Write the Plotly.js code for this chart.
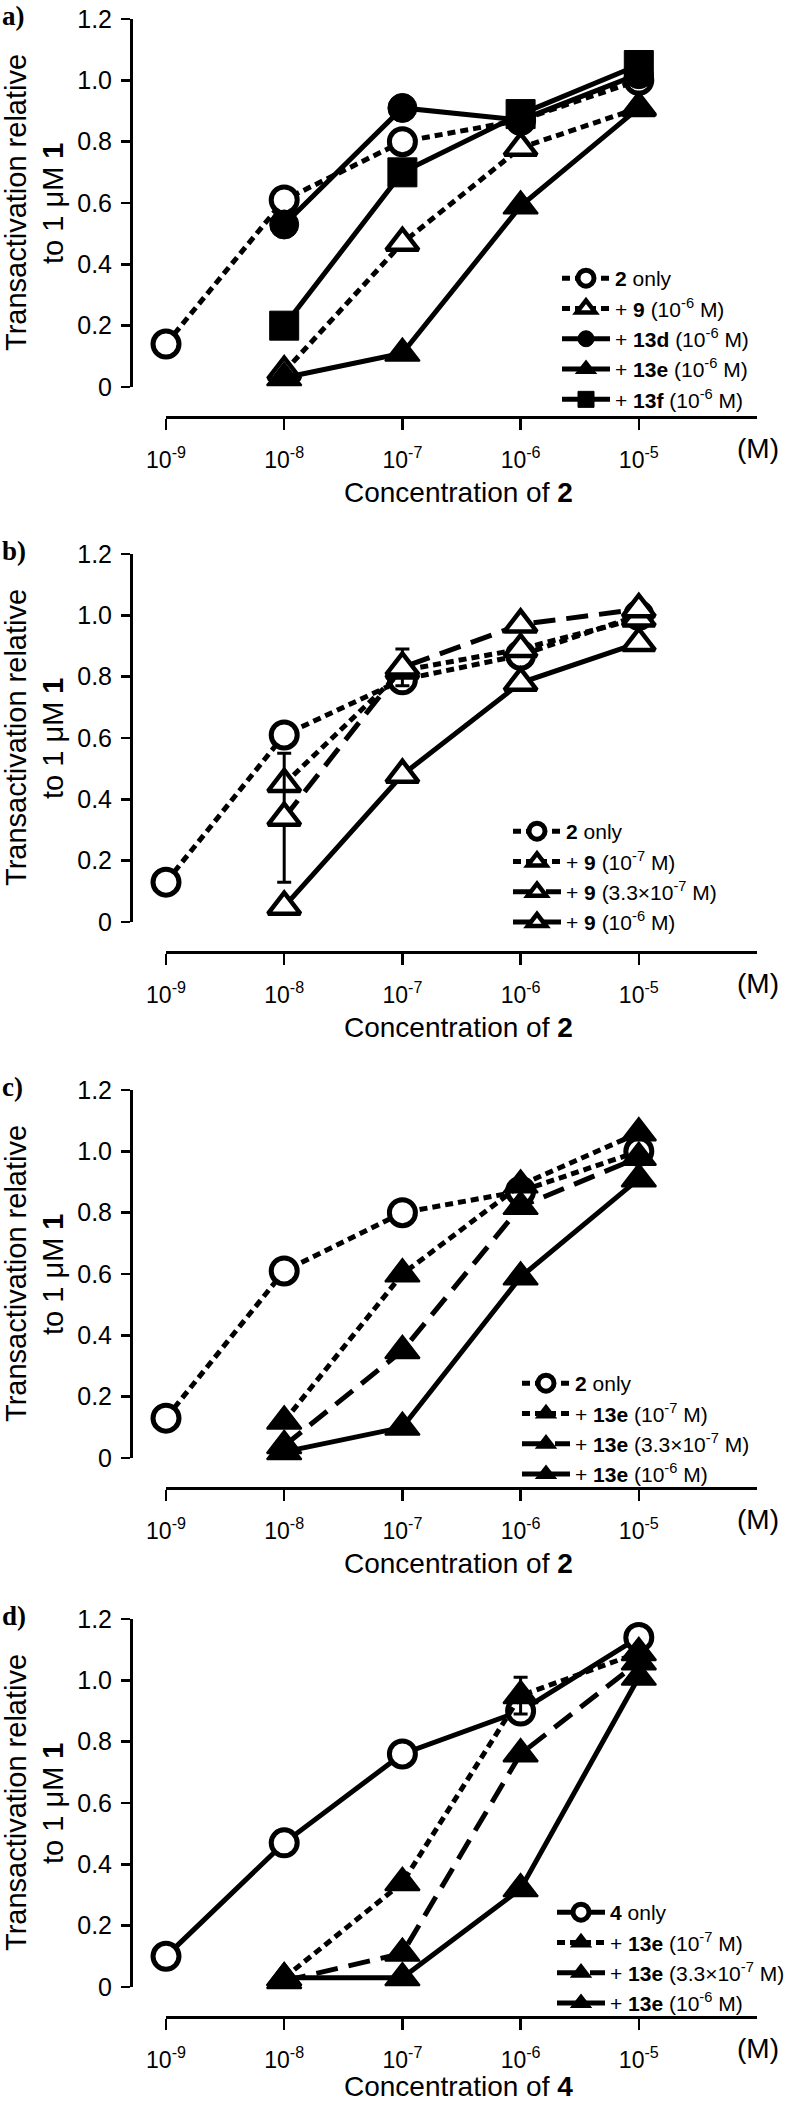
<!DOCTYPE html>
<html>
<head>
<meta charset="utf-8">
<script src="https://cdn.plot.ly/plotly-3.0.1.min.js"></script>
<style>html,body{margin:0;padding:0;background:#fff}#chart{width:790px;height:2105px}</style>
</head>
<body>
<div id="chart"></div>
<script>
// ---------- data ----------
const logConc = [-9, -8, -7, -6, -5];
const xTickText = ['10<sup>-9</sup>', '10<sup>-8</sup>', '10<sup>-7</sup>', '10<sup>-6</sup>', '10<sup>-5</sup>'];
const yTickVals = [0, 0.2, 0.4, 0.6, 0.8, 1.0, 1.2];
const yTickText = ['0', '0.2', '0.4', '0.6', '0.8', '1.0', '1.2'];
const panelLabels = ['a)', 'b)', 'c)', 'd)'];
const xTitles = ['Concentration of <b>2</b>', 'Concentration of <b>2</b>', 'Concentration of <b>2</b>', 'Concentration of <b>4</b>'];

// panel a
const a_names = ['<b>2</b> only', '+ <b>9</b> (10<sup>-6</sup> M)', '+ <b>13d</b> (10<sup>-6</sup> M)', '+ <b>13e</b> (10<sup>-6</sup> M)', '+ <b>13f</b> (10<sup>-6</sup> M)'];
const a_2only = [0.14, 0.61, 0.80, 0.87, 1.00];
const a_9 = [null, 0.05, 0.47, 0.78, 0.91];
const a_13d = [null, 0.53, 0.91, 0.87, 1.02];
const a_13e = [null, 0.03, 0.11, 0.59, 0.91];
const a_13f = [null, 0.20, 0.70, 0.89, 1.05];

// panel b
const b_names = ['<b>2</b> only', '+ <b>9</b> (10<sup>-7</sup> M)', '+ <b>9</b> (3.3×10<sup>-7</sup> M)', '+ <b>9</b> (10<sup>-6</sup> M)'];
const b_2only = [0.13, 0.61, 0.79, 0.87, 1.00];
const b_9_1e7 = [null, 0.45, 0.82, 0.89, 0.99];
const b_9_33e7 = [null, 0.34, 0.83, 0.97, 1.02];
const b_9_33e7_err = [0, 0.21, 0.06, 0, 0];
const b_9_1e6 = [null, 0.05, 0.48, 0.78, 0.91];

// panel c
const c_names = ['<b>2</b> only', '+ <b>13e</b> (10<sup>-7</sup> M)', '+ <b>13e</b> (3.3×10<sup>-7</sup> M)', '+ <b>13e</b> (10<sup>-6</sup> M)'];
const c_2only = [0.13, 0.61, 0.80, 0.87, 1.00];
const c_13e_1e7 = [null, 0.12, 0.60, 0.89, 1.06];
const c_13e_33e7 = [null, 0.04, 0.35, 0.82, 0.98];
const c_13e_1e6 = [null, 0.02, 0.10, 0.59, 0.91];

// panel d
const d_names = ['<b>4</b> only', '+ <b>13e</b> (10<sup>-7</sup> M)', '+ <b>13e</b> (3.3×10<sup>-7</sup> M)', '+ <b>13e</b> (10<sup>-6</sup> M)'];
const d_4only = [0.10, 0.47, 0.76, 0.90, 1.14];
const d_13e_1e7 = [null, 0.03, 0.34, 0.95, 1.09];
const d_13e_1e7_err = [0, 0, 0, 0.06, 0];
const d_13e_33e7 = [null, 0.02, 0.11, 0.76, 1.06];
const d_13e_1e6 = [null, 0.03, 0.03, 0.32, 1.01];

// ---------- styles / geometry ----------
const W = 790, H = 2105;
const FONT = 'Liberation Sans, Arial, Helvetica, sans-serif';
const offsets = [0, 535, 1071, 1600];
const legendPos = [[557, 258], [508, 811], [517, 1363], [552, 1892]];
const px = v => v / W;
const py = v => 1 - v / H;

const LW = 5;
const SHORT = '8px,5px';
const LONG = '22px,11px';
const openCircle = {symbol: 'circle', size: 26, color: 'white', line: {color: 'black', width: 5}};
const filledCircle = {symbol: 'circle', size: 29, color: 'black', line: {color: 'black', width: 1}};
const openTri = {symbol: 'triangle-up', size: 28, color: 'white', line: {color: 'black', width: 4.5}};
const filledTri = {symbol: 'triangle-up', size: 30, color: 'black', line: {color: 'black', width: 2}};
const filledSq = {symbol: 'square', size: 29, color: 'black', line: {color: 'black', width: 1}};

function tr(panel, name, y, marker, dash, err) {
  const sfx = panel === 1 ? '' : String(panel);
  const t = {
    type: 'scatter', mode: 'lines+markers', x: logConc, y: y, name: name,
    xaxis: 'x' + sfx, yaxis: 'y' + sfx, legend: 'legend' + sfx,
    line: {color: 'black', width: LW, dash: dash},
    marker: marker, cliponaxis: false, connectgaps: false, hoverinfo: 'skip'
  };
  if (err) t.error_y = {type: 'data', array: err, visible: true, color: 'black', thickness: 3, width: 7};
  return t;
}

const data = [
  tr(1, a_names[0], a_2only, openCircle, SHORT),
  tr(1, a_names[1], a_9, openTri, SHORT),
  tr(1, a_names[2], a_13d, filledCircle, 'solid'),
  tr(1, a_names[3], a_13e, filledTri, 'solid'),
  tr(1, a_names[4], a_13f, filledSq, 'solid'),

  tr(2, b_names[0], b_2only, openCircle, SHORT),
  tr(2, b_names[1], b_9_1e7, openTri, SHORT),
  tr(2, b_names[2], b_9_33e7, openTri, LONG, b_9_33e7_err),
  tr(2, b_names[3], b_9_1e6, openTri, 'solid'),

  tr(3, c_names[0], c_2only, openCircle, SHORT),
  tr(3, c_names[1], c_13e_1e7, filledTri, SHORT),
  tr(3, c_names[2], c_13e_33e7, filledTri, LONG),
  tr(3, c_names[3], c_13e_1e6, filledTri, 'solid'),

  tr(4, d_names[0], d_4only, openCircle, 'solid'),
  tr(4, d_names[1], d_13e_1e7, filledTri, SHORT, d_13e_1e7_err),
  tr(4, d_names[2], d_13e_33e7, filledTri, LONG),
  tr(4, d_names[3], d_13e_1e6, filledTri, 'solid')
];

const layout = {
  width: W, height: H,
  margin: {l: 0, r: 0, t: 0, b: 0},
  paper_bgcolor: 'white', plot_bgcolor: 'rgba(0,0,0,0)',
  font: {family: FONT, color: 'black', size: 22},
  showlegend: true,
  annotations: []
};

offsets.forEach((off, i) => {
  const sfx = i === 0 ? '' : String(i + 1);
  layout['xaxis' + sfx] = {
    domain: [px(166), px(757)], range: [-9, -4],
    anchor: 'free', position: py(417 + off),
    showline: true, linecolor: 'black', linewidth: 2.5,
    ticks: 'outside', ticklen: 11, tickwidth: 2.5, tickcolor: 'black',
    tickvals: logConc, ticktext: xTickText, tickfont: {size: 23, family: FONT},
    ticklabelstandoff: 11,
    showgrid: false, zeroline: false, fixedrange: true
  };
  layout['yaxis' + sfx] = {
    domain: [py(387 + off), py(19 + off)], range: [0, 1.2],
    anchor: 'free', position: px(131),
    showline: true, linecolor: 'black', linewidth: 2.5,
    ticks: 'outside', ticklen: 9, tickwidth: 2.5, tickcolor: 'black',
    tickvals: yTickVals, ticktext: yTickText, tickfont: {size: 25, family: FONT},
    ticklabelstandoff: 4,
    showgrid: false, zeroline: false, fixedrange: true
  };
  layout['legend' + sfx] = {
    x: px(legendPos[i][0]), y: py(legendPos[i][1]), xanchor: 'left', yanchor: 'top',
    xref: 'paper', yref: 'paper',
    bgcolor: 'rgba(0,0,0,0)', borderwidth: 0,
    font: {size: 21, family: FONT}, itemwidth: 48, tracegroupgap: 0
  };
  layout.annotations.push(
    {text: panelLabels[i], xref: 'paper', yref: 'paper', x: px(0), y: py(16 + off), xanchor: 'left', yanchor: 'middle',
     showarrow: false, font: {family: 'Liberation Serif, Times New Roman, serif', size: 27, weight: 'bold'}},
    {text: 'Transactivation relative', xref: 'paper', yref: 'paper', x: px(16), y: py(203 + off), xanchor: 'center', yanchor: 'middle',
     textangle: -90, showarrow: false, font: {size: 29}},
    {text: 'to 1 μM <b>1</b>', xref: 'paper', yref: 'paper', x: px(53), y: py(203 + off), xanchor: 'center', yanchor: 'middle',
     textangle: -90, showarrow: false, font: {size: 29}},
    {text: xTitles[i], xref: 'paper', yref: 'paper', x: px(458), y: py(Math.min(492 + off, 2086)), xanchor: 'center', yanchor: 'middle',
     showarrow: false, font: {size: 28}},
    {text: '(M)', xref: 'paper', yref: 'paper', x: px(758), y: py(448 + off), xanchor: 'center', yanchor: 'middle',
     showarrow: false, font: {size: 28}}
  );
});

Plotly.newPlot('chart', data, layout, {displayModeBar: false, staticPlot: true});
</script>
</body>
</html>
